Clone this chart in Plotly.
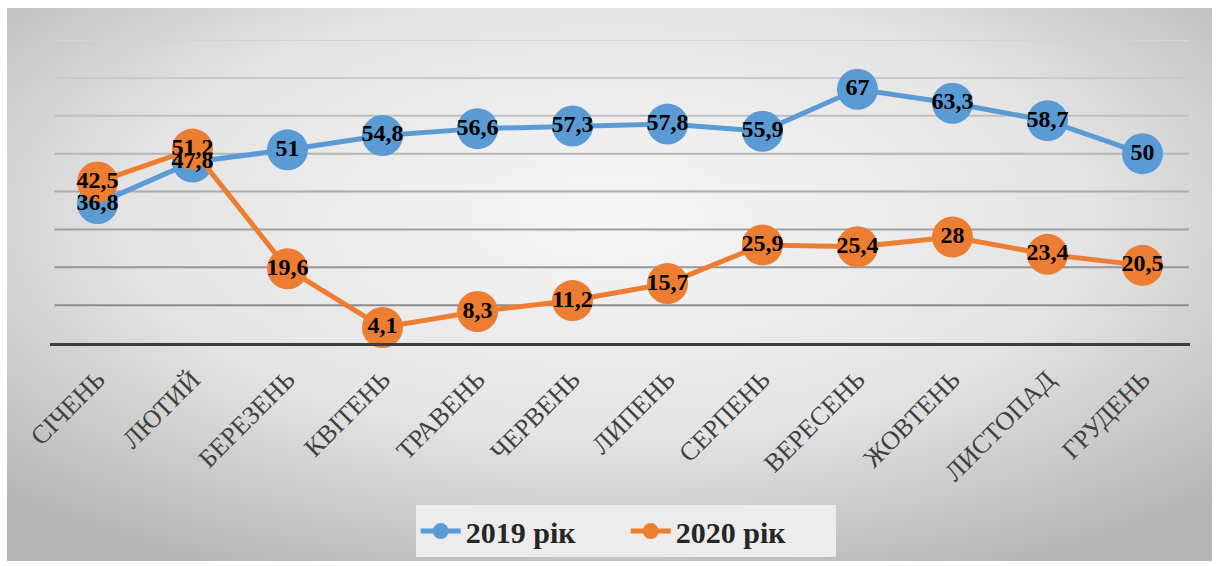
import base64
import plotly.graph_objects as go

months = ["СІЧЕНЬ", "ЛЮТИЙ", "БЕРЕЗЕНЬ", "КВІТЕНЬ", "ТРАВЕНЬ", "ЧЕРВЕНЬ",
          "ЛИПЕНЬ", "СЕРПЕНЬ", "ВЕРЕСЕНЬ", "ЖОВТЕНЬ", "ЛИСТОПАД", "ГРУДЕНЬ"]
values_2019 = [36.8, 47.8, 51, 54.8, 56.6, 57.3, 57.8, 55.9, 67, 63.3, 58.7, 50]
values_2020 = [42.5, 51.2, 19.6, 4.1, 8.3, 11.2, 15.7, 25.9, 25.4, 28, 23.4, 20.5]
series_names = ["2019 рік", "2020 рік"]
grid_values = [10, 20, 30, 40, 50, 60, 70, 80]

BLUE = "#5B9BD5"
ORANGE = "#ED7D31"
SERIF = "Liberation Serif, Times New Roman, serif"


def fmt(v):
    s = ("%g" % v)
    return s.replace(".", ",")


W, H = 1218, 566
L, R, T, B = 50, 28, 40, 223
pw, ph = W - L - R, H - T - B

fig = go.Figure()

for name, vals, col in [(series_names[0], values_2019, BLUE),
                        (series_names[1], values_2020, ORANGE)]:
    fig.add_trace(go.Scatter(
        x=months, y=vals, name=name, mode="lines+markers",
        line=dict(color=col, width=5),
        marker=dict(color=col, size=41, line=dict(width=0)),
        hoverinfo="skip", cliponaxis=False,
    ))

for vals in [values_2020, values_2019]:
    fig.add_trace(go.Scatter(
        x=months, y=vals, mode="text", text=[fmt(v) for v in vals],
        textposition="middle center",
        textfont=dict(family=SERIF, size=24, color="#000000", weight="bold"),
        showlegend=False, hoverinfo="skip", cliponaxis=False,
    ))

# gridlines with gradient tone (darker lower, lighter higher)
shapes = []
n = len(grid_values)
for i, g in enumerate(grid_values):
    t = i / (n - 1)
    c = int(140 + t * (212 - 140))
    shapes.append(dict(type="line", xref="paper", yref="y", x0=0.004, x1=0.999,
                       y0=g, y1=g, layer="below",
                       line=dict(color="rgb(%d,%d,%d)" % (c, c, c), width=2)))

# background gradient (svg image)
fx0, fx1 = 7, 1212
fy0, fy1 = 8, 561
svg = f'''<svg xmlns="http://www.w3.org/2000/svg" width="{fx1-fx0}" height="{fy1-fy0}" preserveAspectRatio="none">
<defs><radialGradient id="g" cx="50%" cy="38%" r="72%">
<stop offset="0%" stop-color="#f6f6f6"/>
<stop offset="55%" stop-color="#e4e4e4"/>
<stop offset="100%" stop-color="#b4b4b4"/>
</radialGradient></defs>
<rect x="0" y="0" width="{fx1-fx0}" height="{fy1-fy0}" fill="url(#g)"/>
</svg>'''
src = "data:image/svg+xml;base64," + base64.b64encode(svg.encode()).decode()

fig.update_layout(
    width=W, height=H,
    margin=dict(l=L, r=R, t=T, b=B, autoexpand=False),
    paper_bgcolor="#ffffff", plot_bgcolor="rgba(0,0,0,0)",
    shapes=shapes,
    images=[dict(source=src, xref="paper", yref="paper",
                 x=(fx0 - L) / pw, y=(H - B - fy0) / ph,
                 sizex=(fx1 - fx0) / pw, sizey=(fy1 - fy0) / ph,
                 xanchor="left", yanchor="top", sizing="stretch", layer="below")],
    xaxis=dict(type="category", range=[-0.5, 11.5], showgrid=False,
               showline=True, linecolor="#3c3c3c", linewidth=3,
               tickangle=-45, ticks="", ticklen=0, ticklabelstandoff=8,
               tickfont=dict(family=SERIF, size=26, color="#404040")),
    yaxis=dict(range=[0, 80], showgrid=False, zeroline=False,
               showticklabels=False, ticks=""),
    legend=dict(orientation="h", x=0.505, xanchor="center", y=-0.535, yanchor="top",
                bgcolor="#ececec", borderwidth=0,
                font=dict(family=SERIF, size=30, color="#262626", weight="bold"),
                itemwidth=40, entrywidth=155, entrywidthmode="pixels"),
    showlegend=True,
)

fig.write_html("out.html")
